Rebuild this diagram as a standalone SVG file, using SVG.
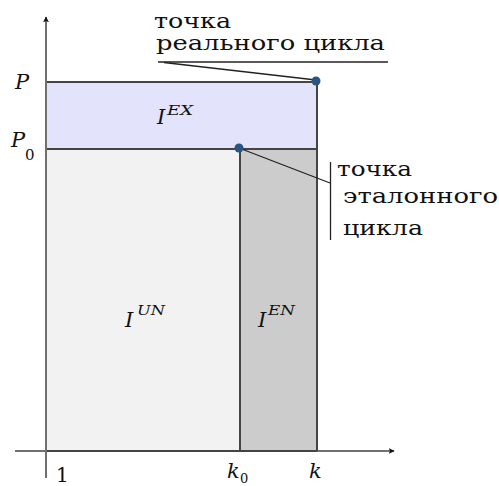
<svg xmlns="http://www.w3.org/2000/svg" width="499" height="486" viewBox="0 0 499 486">
<defs>
<style>
.ax{stroke:#707070;stroke-width:2;fill:none}
.edge{stroke:#444;stroke-width:2;fill:none}
.lead{stroke:#222;stroke-width:1.3;fill:none}
.pt{fill:#285680}
.lbl{font-family:"DejaVu Serif","Liberation Serif",serif;font-size:21px;fill:#111}
.m{font-family:"DejaVu Serif","Liberation Serif",serif;font-style:italic;font-size:21px;fill:#111}
.num{font-family:"DejaVu Serif","Liberation Serif",serif;font-size:20px;fill:#111}
.sup{font-family:"DejaVu Serif","Liberation Serif",serif;font-style:italic;font-size:13px;fill:#111}
.sub{font-family:"DejaVu Serif","Liberation Serif",serif;font-size:15px;fill:#111}
.subs{font-family:"DejaVu Serif","Liberation Serif",serif;font-size:13px;fill:#111}
</style>
<marker id="arr" viewBox="0 0 10 10" refX="9" refY="5" markerWidth="6" markerHeight="6" orient="auto" markerUnits="userSpaceOnUse">
<path d="M0,0 L10,5 L0,10 L2.5,5 Z" fill="#111"/>
</marker>
</defs>
<rect width="499" height="486" fill="#fff"/>
<g id="regions">
<rect id="ex" x="47" y="82" width="270" height="67" fill="#e3e3fb"/>
<rect id="un" x="47" y="149" width="193" height="302" fill="#f2f2f2"/>
<rect id="en" x="240" y="149" width="77" height="302" fill="#cccccc"/>
</g>
<g id="axes">
<line class="ax" x1="46" y1="478" x2="46" y2="17" marker-end="url(#arr)"/>
<line class="ax" x1="15" y1="451" x2="394" y2="451" marker-end="url(#arr)"/>
</g>
<g id="edges">
<line class="edge" x1="47" y1="82" x2="317" y2="82"/>
<line class="edge" x1="47" y1="149" x2="317" y2="149"/>
<line class="edge" x1="317" y1="82" x2="317" y2="451"/>
<line class="edge" x1="240" y1="149" x2="240" y2="451"/>
<line class="edge" x1="47" y1="451" x2="317" y2="451"/>
</g>
<g id="connectors">
<line class="lead" x1="158" y1="62" x2="388" y2="62"/>
<line class="lead" x1="164" y1="62.5" x2="316" y2="80"/>
<line class="lead" x1="239" y1="148" x2="330" y2="183"/>
<line class="lead" x1="330.5" y1="162" x2="330.5" y2="240"/>
</g>
<g id="real-point">
<circle class="pt" cx="316" cy="81" r="4.5"/>
<text class="lbl" x="154" y="28" textLength="77" lengthAdjust="spacingAndGlyphs">точка</text>
<text class="lbl" x="156" y="50" textLength="229" lengthAdjust="spacingAndGlyphs">реального цикла</text>
</g>
<g id="ref-point">
<circle class="pt" cx="239" cy="148" r="4.5"/>
<text class="lbl" x="337" y="176" textLength="75" lengthAdjust="spacingAndGlyphs">точка</text>
<text class="lbl" x="343" y="203" textLength="155" lengthAdjust="spacingAndGlyphs">эталонного</text>
<text class="lbl" x="343" y="235" textLength="80" lengthAdjust="spacingAndGlyphs">цикла</text>
</g>
<g id="labels">
<text class="m" x="15" y="89">P</text>
<text class="m" x="11" y="147">P</text><text class="sub" x="25" y="160">0</text>
<text class="m" x="157" y="124">I</text><text class="sup" x="167" y="115" textLength="26" lengthAdjust="spacingAndGlyphs">EX</text>
<text class="m" x="125" y="327">I</text><text class="sup" x="137" y="315" textLength="28" lengthAdjust="spacingAndGlyphs">UN</text>
<text class="m" x="258" y="327">I</text><text class="sup" x="268" y="315" textLength="27" lengthAdjust="spacingAndGlyphs">EN</text>
<text class="num" x="56" y="482">1</text>
<text class="m" x="227" y="478">k</text><text class="subs" x="240" y="483">0</text>
<text class="m" x="309" y="478">k</text>
</g>
</svg>
